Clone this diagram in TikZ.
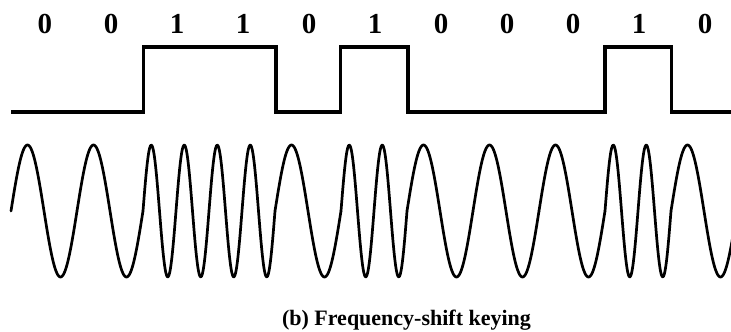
\documentclass[tikz,border=0pt]{standalone}
\usepackage{fontspec}
\setmainfont{Liberation Serif}
\begin{document}
\begin{tikzpicture}[x=1pt,y=-1pt,
  sq/.style={line width=3.2pt, line join=miter},
  wave/.style={line width=2.7pt, line cap=round, line join=round},
  bitlabel/.style={font=\fontsize{29}{29}\selectfont\bfseries, anchor=base, inner sep=0pt},
  captext/.style={font=\fontsize{22}{22}\selectfont\bfseries, anchor=base, inner sep=0pt}]
\useasboundingbox (0,0) rectangle (731,332);
\clip (0,0) rectangle (731,332);
% bit labels
\foreach \b [count=\i from 0] in {0,0,1,1,0,1,0,0,0,1,0}{
  \node[bitlabel] (b\i) at ({45+66*\i},33) {\b};
}
% square wave
\draw[sq] (11,112) -- (143.5,112) -- (143.5,47) -- (276,47) -- (276,112)
  -- (340.5,112) -- (340.5,47) -- (408,47) -- (408,112) -- (605,112)
  -- (605,47) -- (671.5,47) -- (671.5,112) -- (740,112);
% FSK wave
\foreach \b [count=\i from 0] in {0,0,1,1,0,1,0,0,0,1,0}{
  \pgfmathsetmacro{\xs}{11+66*\i}
  \pgfmathsetmacro{\kk}{360*(1+\b)/66}
  \draw[wave] plot[domain=0:66, samples=90, smooth]
    ({\xs+\x}, {211-66*sin(\kk*\x)});
}
% caption
\node[captext] (cap) at (406.5,325) {(b) Frequency-shift keying};
\end{tikzpicture}
\end{document}
